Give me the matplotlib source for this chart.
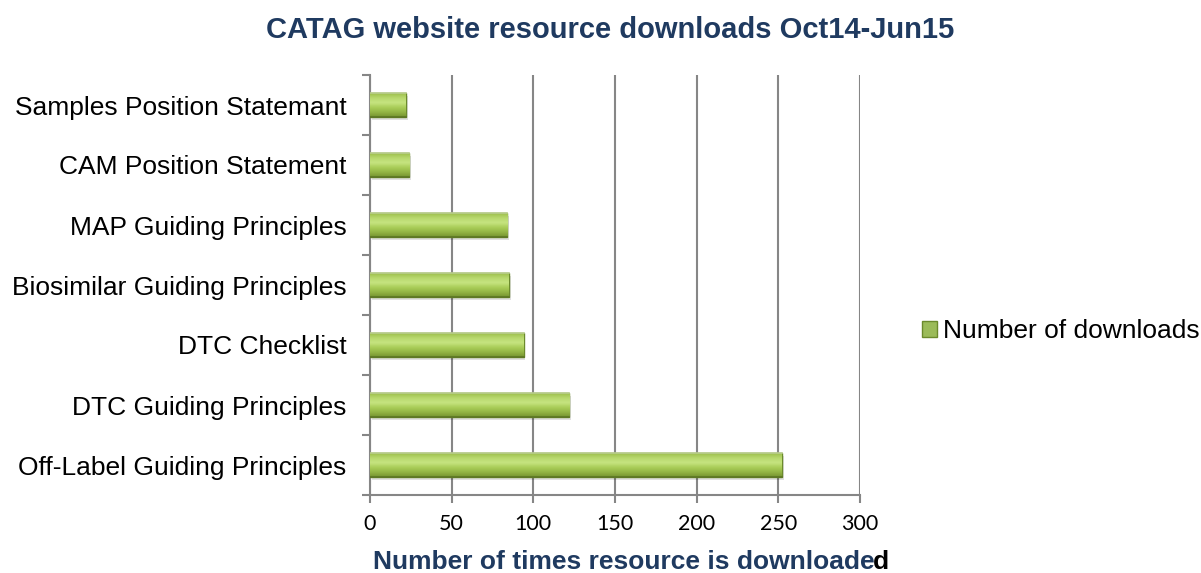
import matplotlib.pyplot as plt
import numpy as np
from matplotlib.colors import LinearSegmentedColormap

resources = ['Off-Label Guiding Principles', 'DTC Guiding Principles', 'DTC Checklist',
             'Biosimilar Guiding Principles', 'MAP Guiding Principles', 'CAM Position Statement',
             'Samples Position Statemant']
downloads = [252, 122, 94, 85, 84, 24, 22]
x_ticks = [0, 50, 100, 150, 200, 250, 300]

navy = '#1F3A60'
grid_grey = '#868686'

plt.rcParams['font.family'] = ['Liberation Sans', 'DejaVu Sans']

fig = plt.figure(figsize=(12.01, 5.73), dpi=100)
ax = fig.add_axes([370 / 1201, 78 / 573, 490 / 1201, 420 / 573])

y = np.arange(len(resources))
bars = ax.barh(y, downloads, height=0.4, color='#9BBB59', edgecolor='#6B8A2C',
               linewidth=1.0, zorder=3, label='Number of downloads')

# vertical gradient fill inside each bar, clipped to the bar shape
green = LinearSegmentedColormap.from_list(
    'bar_green', ['#769431', '#93B545', '#AACD58', '#C6E480', '#B8D86E', '#9DBF4C'])
grad = np.linspace(0, 1, 64).reshape(-1, 1)
for b in bars:
    x0, y0, w, h = b.get_x(), b.get_y(), b.get_width(), b.get_height()
    # soft shadow under the bar
    ax.barh(y0 + h / 2 - 0.05, w, height=h, left=x0 + 1.2, color='#000000', alpha=0.12,
            linewidth=0, zorder=2)
    im = ax.imshow(grad, cmap=green, aspect='auto', extent=(x0, x0 + w, y0, y0 + h),
                   origin='lower', zorder=3.5, interpolation='bicubic')
    im.set_clip_path(b)
    ax.plot([x0, x0 + w], [y0 + h, y0 + h], color='#B9CC8E', lw=1.2, zorder=3.7)
    ax.plot([x0, x0 + w], [y0, y0], color='#5C7624', lw=1.2, zorder=3.7)

ax.set_xlim(0, 300)
ax.set_ylim(-0.5, len(resources) - 0.5)
ax.set_xticks(x_ticks)
ax.set_xticklabels([str(t) for t in x_ticks], fontsize=15.5, family=['Lato', 'DejaVu Sans'])
ax.set_yticks(y)
ax.set_yticklabels(resources, fontsize=19)
ax.set_yticks(np.arange(-0.5, len(resources)), minor=True)
ax.tick_params(axis='y', which='major', length=0, pad=17)
ax.tick_params(axis='y', which='minor', length=6, color=grid_grey, width=1.5)
ax.tick_params(axis='x', length=6, color=grid_grey, width=1.5, pad=8)

ax.grid(axis='x', color=grid_grey, linewidth=1.5, zorder=0)
ax.set_axisbelow(True)
for side in ['top', 'right']:
    ax.spines[side].set_visible(False)
for side in ['left', 'bottom']:
    ax.spines[side].set_color(grid_grey)
    ax.spines[side].set_linewidth(1.5)

fig.text(610 / 1201, 1 - 30 / 573, 'CATAG website resource downloads Oct14-Jun15',
         ha='center', va='center', fontsize=21, fontweight='bold', color=navy)

xl = fig.text(373 / 1201, 1 - 562 / 573, 'Number of times resource is downloade',
              ha='left', va='center', fontsize=19, fontweight='bold', color=navy)
ax.annotate('d', xy=(1, 0), xycoords=xl, xytext=(-1.5, 0), textcoords='offset points',
            ha='left', va='bottom', fontsize=19, fontweight='bold', color='black')

ax.legend(loc='center left', bbox_to_anchor=(1.127, 0.39), frameon=False, fontsize=19,
          handlelength=0.57, handleheight=0.57, handletextpad=0.2,
          borderpad=0, borderaxespad=0)

fig.savefig('out.png', dpi=100)
